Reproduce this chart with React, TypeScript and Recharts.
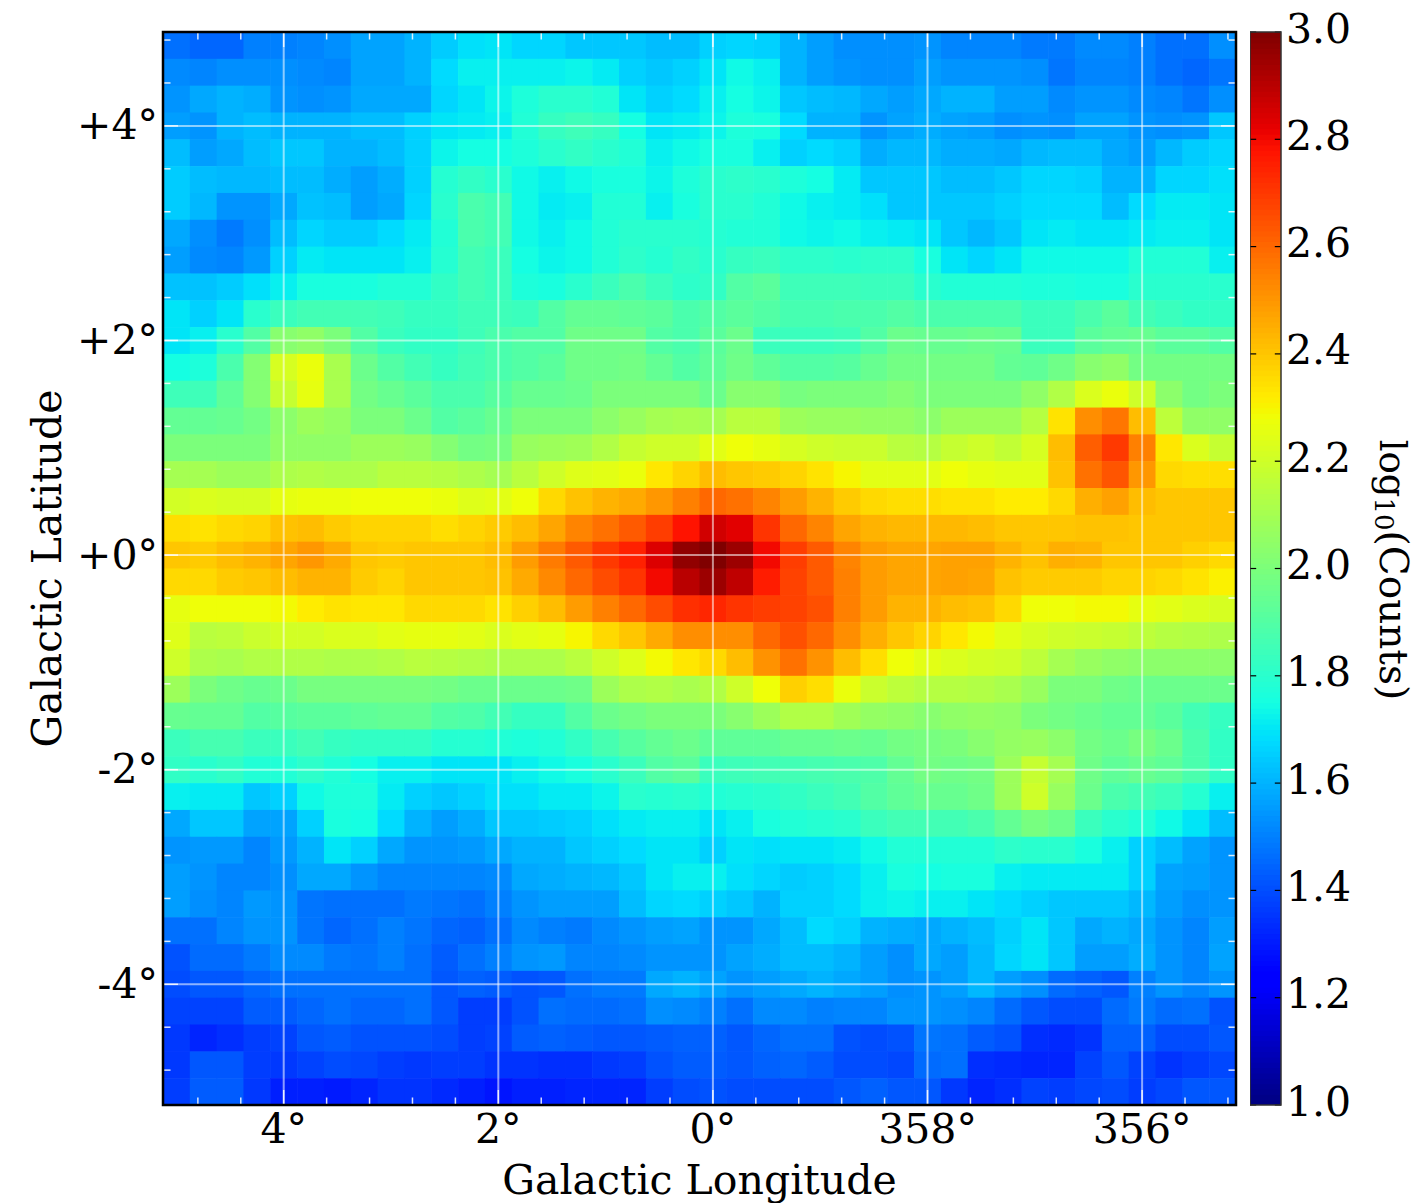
import React from 'react';
import { ScatterChart, Scatter, XAxis, YAxis, ReferenceLine, ReferenceArea, Label } from 'recharts';

// log10(counts) per pixel, top row first, left column (l = +5 deg) first
const row00 = [1.47,1.45,1.45,1.50,1.50,1.51,1.53,1.57,1.57,1.60,1.65,1.69,1.70,1.67,1.67,1.64,1.64,1.64,1.62,1.62,1.66,1.67,1.66,1.60,1.56,1.53,1.53,1.53,1.54,1.51,1.51,1.51,1.49,1.49,1.52,1.52,1.50,1.47,1.47,1.53];
const row01 = [1.52,1.51,1.53,1.53,1.53,1.52,1.51,1.57,1.57,1.60,1.68,1.72,1.72,1.72,1.72,1.73,1.71,1.66,1.64,1.66,1.70,1.74,1.72,1.60,1.56,1.54,1.53,1.53,1.56,1.54,1.54,1.54,1.53,1.48,1.51,1.51,1.50,1.47,1.45,1.48];
const row02 = [1.54,1.58,1.60,1.59,1.54,1.53,1.54,1.58,1.58,1.58,1.67,1.70,1.73,1.77,1.80,1.80,1.78,1.70,1.66,1.68,1.72,1.75,1.73,1.64,1.62,1.61,1.58,1.56,1.58,1.60,1.60,1.56,1.56,1.52,1.54,1.54,1.52,1.51,1.48,1.53];
const row03 = [1.56,1.54,1.60,1.62,1.60,1.60,1.60,1.62,1.62,1.66,1.70,1.71,1.72,1.78,1.83,1.85,1.83,1.75,1.70,1.71,1.73,1.77,1.76,1.68,1.60,1.60,1.54,1.57,1.59,1.57,1.56,1.53,1.54,1.53,1.57,1.57,1.54,1.53,1.54,1.64];
const row04 = [1.62,1.56,1.58,1.62,1.64,1.64,1.60,1.60,1.62,1.66,1.73,1.75,1.75,1.77,1.80,1.82,1.80,1.78,1.72,1.74,1.76,1.76,1.72,1.66,1.68,1.66,1.59,1.61,1.61,1.59,1.59,1.58,1.61,1.62,1.62,1.58,1.56,1.61,1.65,1.67];
const row05 = [1.65,1.62,1.61,1.61,1.62,1.62,1.59,1.56,1.59,1.66,1.79,1.82,1.80,1.74,1.72,1.74,1.76,1.76,1.73,1.77,1.80,1.81,1.80,1.77,1.75,1.71,1.64,1.64,1.64,1.62,1.62,1.64,1.67,1.67,1.66,1.60,1.60,1.67,1.67,1.69];
const row06 = [1.65,1.61,1.54,1.54,1.58,1.63,1.62,1.56,1.58,1.67,1.80,1.88,1.86,1.74,1.71,1.72,1.78,1.78,1.72,1.76,1.80,1.80,1.78,1.74,1.72,1.71,1.69,1.64,1.64,1.64,1.64,1.66,1.68,1.68,1.68,1.62,1.68,1.71,1.71,1.70];
const row07 = [1.58,1.53,1.49,1.53,1.62,1.67,1.65,1.65,1.68,1.71,1.78,1.88,1.86,1.74,1.72,1.74,1.78,1.80,1.80,1.80,1.79,1.78,1.78,1.74,1.73,1.74,1.72,1.71,1.70,1.64,1.61,1.64,1.70,1.71,1.70,1.70,1.71,1.72,1.72,1.70];
const row08 = [1.56,1.52,1.51,1.55,1.66,1.71,1.70,1.70,1.70,1.72,1.79,1.86,1.84,1.75,1.73,1.74,1.78,1.81,1.79,1.82,1.80,1.83,1.84,1.81,1.81,1.80,1.81,1.81,1.76,1.70,1.67,1.70,1.74,1.74,1.74,1.74,1.78,1.78,1.78,1.72];
const row09 = [1.63,1.63,1.65,1.69,1.72,1.76,1.76,1.76,1.78,1.78,1.82,1.86,1.84,1.77,1.76,1.80,1.84,1.88,1.84,1.81,1.82,1.90,1.92,1.85,1.85,1.85,1.84,1.84,1.80,1.78,1.78,1.78,1.77,1.77,1.76,1.76,1.80,1.80,1.80,1.80];
const row10 = [1.70,1.66,1.70,1.80,1.84,1.86,1.86,1.86,1.85,1.83,1.83,1.85,1.85,1.84,1.90,1.94,1.94,1.93,1.92,1.88,1.90,1.92,1.90,1.87,1.87,1.88,1.88,1.90,1.88,1.88,1.88,1.88,1.84,1.84,1.88,1.92,1.86,1.84,1.82,1.82];
const row11 = [1.70,1.72,1.80,1.90,2.03,2.05,2.00,1.90,1.84,1.82,1.82,1.85,1.88,1.90,1.90,1.97,1.97,1.97,1.90,1.88,1.92,1.96,1.84,1.84,1.84,1.85,1.90,1.96,1.95,1.95,1.96,1.95,1.84,1.84,1.92,1.94,1.95,1.92,1.92,1.90];
const row12 = [1.75,1.77,1.88,2.02,2.22,2.27,2.11,1.96,1.90,1.86,1.83,1.86,1.88,1.90,1.92,1.97,1.97,1.98,1.94,1.90,1.93,1.97,1.93,1.90,1.90,1.91,1.95,1.98,1.98,1.98,1.98,1.94,1.93,1.97,2.03,2.05,1.98,1.98,1.98,1.98];
const row13 = [1.85,1.85,1.93,2.02,2.18,2.26,2.11,1.98,1.95,1.92,1.88,1.88,1.91,1.95,1.95,1.96,2.00,2.00,2.00,2.00,1.96,2.03,2.03,1.99,2.00,2.00,2.00,2.02,2.00,2.00,2.00,2.00,2.05,2.13,2.23,2.27,2.20,2.04,1.98,2.00];
const row14 = [1.94,1.94,1.95,1.98,2.04,2.08,2.06,2.00,2.00,1.96,1.90,1.92,1.95,2.00,2.00,2.00,2.04,2.07,2.10,2.11,2.10,2.15,2.15,2.08,2.07,2.07,2.06,2.06,2.04,2.08,2.08,2.08,2.14,2.34,2.52,2.57,2.42,2.16,2.05,2.05];
const row15 = [2.00,2.00,2.00,2.00,2.05,2.05,2.05,2.08,2.08,2.07,2.02,1.98,1.99,2.07,2.08,2.09,2.13,2.18,2.20,2.20,2.25,2.28,2.26,2.22,2.20,2.19,2.19,2.15,2.14,2.18,2.20,2.17,2.22,2.42,2.62,2.70,2.55,2.33,2.23,2.18];
const row16 = [2.10,2.10,2.08,2.08,2.12,2.13,2.12,2.12,2.15,2.15,2.14,2.12,2.10,2.15,2.20,2.24,2.25,2.27,2.33,2.37,2.42,2.40,2.39,2.37,2.34,2.30,2.25,2.25,2.25,2.28,2.26,2.25,2.25,2.41,2.58,2.64,2.50,2.36,2.35,2.35];
const row17 = [2.21,2.23,2.22,2.22,2.26,2.27,2.27,2.28,2.28,2.28,2.27,2.24,2.25,2.28,2.36,2.41,2.44,2.46,2.50,2.55,2.60,2.58,2.54,2.49,2.44,2.39,2.36,2.35,2.35,2.34,2.34,2.32,2.32,2.36,2.45,2.48,2.42,2.40,2.40,2.40];
const row18 = [2.35,2.34,2.36,2.37,2.41,2.42,2.39,2.37,2.37,2.37,2.35,2.37,2.39,2.42,2.47,2.54,2.58,2.63,2.69,2.78,2.86,2.83,2.71,2.60,2.54,2.47,2.44,2.43,2.43,2.43,2.42,2.40,2.40,2.40,2.41,2.41,2.40,2.40,2.40,2.40];
const row19 = [2.40,2.39,2.42,2.44,2.47,2.50,2.46,2.40,2.39,2.40,2.40,2.40,2.42,2.49,2.56,2.63,2.70,2.75,2.84,2.97,3.00,2.95,2.80,2.69,2.63,2.54,2.49,2.47,2.47,2.48,2.48,2.44,2.41,2.45,2.44,2.40,2.40,2.40,2.38,2.36];
const row20 = [2.36,2.36,2.39,2.40,2.42,2.44,2.44,2.39,2.37,2.40,2.40,2.40,2.41,2.46,2.53,2.60,2.66,2.71,2.80,2.90,2.95,2.89,2.76,2.68,2.63,2.55,2.49,2.47,2.47,2.48,2.47,2.41,2.39,2.39,2.39,2.37,2.37,2.36,2.34,2.31];
const row21 = [2.26,2.28,2.28,2.28,2.29,2.32,2.34,2.33,2.33,2.36,2.36,2.36,2.34,2.38,2.42,2.49,2.55,2.60,2.66,2.72,2.74,2.71,2.69,2.68,2.65,2.55,2.49,2.44,2.44,2.42,2.41,2.36,2.28,2.28,2.29,2.29,2.26,2.25,2.23,2.22];
const row22 = [2.24,2.15,2.16,2.19,2.21,2.21,2.23,2.23,2.25,2.26,2.26,2.25,2.23,2.25,2.26,2.30,2.36,2.40,2.46,2.52,2.52,2.52,2.60,2.65,2.60,2.52,2.45,2.40,2.37,2.33,2.29,2.25,2.22,2.20,2.19,2.18,2.16,2.14,2.13,2.12];
const row23 = [2.20,2.12,2.11,2.13,2.13,2.13,2.12,2.12,2.13,2.15,2.14,2.13,2.12,2.12,2.12,2.15,2.20,2.24,2.29,2.33,2.36,2.42,2.51,2.58,2.51,2.42,2.35,2.28,2.25,2.23,2.21,2.20,2.16,2.10,2.07,2.05,2.04,2.04,2.04,2.04];
const row24 = [2.08,2.00,1.97,1.95,1.96,1.99,1.99,1.99,1.99,1.99,1.98,1.96,1.96,1.96,1.96,1.97,2.08,2.12,2.13,2.11,2.13,2.20,2.28,2.38,2.35,2.27,2.19,2.16,2.14,2.14,2.13,2.11,2.07,2.00,2.00,1.97,1.96,1.96,1.96,1.96];
const row25 = [1.95,1.94,1.94,1.90,1.91,1.92,1.92,1.93,1.94,1.94,1.90,1.89,1.86,1.83,1.83,1.90,1.96,1.98,2.00,2.00,2.00,2.03,2.08,2.13,2.13,2.09,2.06,2.05,2.03,2.05,2.06,2.05,2.00,1.98,1.96,1.94,1.94,1.92,1.86,1.83];
const row26 = [1.84,1.87,1.87,1.84,1.84,1.86,1.83,1.82,1.82,1.82,1.79,1.79,1.78,1.77,1.78,1.82,1.87,1.91,1.94,1.96,1.93,1.93,1.93,1.95,1.95,1.96,1.95,1.98,1.99,2.00,2.03,2.06,2.07,2.04,1.98,1.96,1.99,1.96,1.88,1.82];
const row27 = [1.82,1.80,1.82,1.78,1.78,1.81,1.78,1.75,1.72,1.72,1.70,1.70,1.70,1.72,1.74,1.76,1.80,1.84,1.90,1.92,1.84,1.85,1.86,1.86,1.87,1.88,1.89,1.94,1.98,1.97,1.98,2.08,2.18,2.10,1.97,1.93,1.95,1.93,1.88,1.82];
const row28 = [1.72,1.71,1.71,1.64,1.66,1.74,1.77,1.77,1.71,1.66,1.64,1.66,1.69,1.69,1.71,1.71,1.73,1.80,1.79,1.80,1.78,1.79,1.80,1.82,1.84,1.86,1.90,1.93,1.95,1.95,1.97,2.08,2.20,2.07,1.96,1.88,1.86,1.84,1.79,1.72];
const row29 = [1.58,1.64,1.64,1.57,1.57,1.66,1.76,1.75,1.68,1.60,1.56,1.59,1.64,1.64,1.65,1.66,1.69,1.71,1.72,1.72,1.70,1.72,1.76,1.78,1.79,1.80,1.84,1.86,1.86,1.86,1.88,1.94,1.99,1.96,1.84,1.80,1.78,1.74,1.70,1.62];
const row30 = [1.54,1.55,1.55,1.51,1.55,1.60,1.70,1.66,1.58,1.54,1.54,1.55,1.58,1.60,1.60,1.64,1.66,1.68,1.70,1.70,1.66,1.70,1.69,1.70,1.70,1.71,1.74,1.78,1.78,1.78,1.78,1.81,1.80,1.80,1.76,1.72,1.66,1.62,1.57,1.54];
const row31 = [1.56,1.54,1.51,1.51,1.53,1.58,1.58,1.54,1.51,1.51,1.51,1.51,1.52,1.58,1.59,1.60,1.61,1.64,1.70,1.72,1.72,1.69,1.67,1.65,1.66,1.68,1.72,1.76,1.75,1.76,1.76,1.72,1.71,1.71,1.71,1.71,1.66,1.57,1.56,1.54];
const row32 = [1.56,1.53,1.51,1.55,1.54,1.48,1.47,1.47,1.47,1.49,1.48,1.47,1.50,1.54,1.56,1.56,1.56,1.62,1.67,1.68,1.66,1.64,1.60,1.66,1.66,1.68,1.72,1.73,1.72,1.72,1.70,1.68,1.66,1.64,1.64,1.64,1.61,1.56,1.53,1.54];
const row33 = [1.47,1.47,1.51,1.54,1.54,1.48,1.45,1.47,1.50,1.48,1.45,1.44,1.47,1.52,1.50,1.49,1.52,1.54,1.56,1.57,1.54,1.54,1.58,1.62,1.68,1.66,1.60,1.59,1.58,1.60,1.62,1.66,1.70,1.64,1.58,1.60,1.58,1.54,1.51,1.56];
const row34 = [1.41,1.46,1.46,1.49,1.52,1.52,1.49,1.48,1.50,1.47,1.43,1.47,1.50,1.54,1.55,1.51,1.51,1.52,1.54,1.54,1.54,1.57,1.59,1.62,1.62,1.60,1.56,1.53,1.58,1.56,1.61,1.67,1.70,1.64,1.56,1.56,1.59,1.54,1.51,1.57];
const row35 = [1.40,1.42,1.42,1.45,1.47,1.47,1.47,1.47,1.47,1.47,1.42,1.44,1.43,1.41,1.42,1.47,1.49,1.49,1.58,1.60,1.57,1.54,1.56,1.58,1.60,1.58,1.56,1.53,1.54,1.56,1.61,1.56,1.53,1.46,1.44,1.42,1.50,1.54,1.51,1.54];
const row36 = [1.38,1.38,1.38,1.43,1.43,1.45,1.47,1.45,1.45,1.47,1.42,1.37,1.37,1.41,1.47,1.46,1.46,1.47,1.53,1.52,1.50,1.47,1.52,1.52,1.50,1.51,1.51,1.54,1.54,1.53,1.51,1.46,1.42,1.40,1.40,1.46,1.49,1.46,1.47,1.41];
const row37 = [1.36,1.32,1.34,1.37,1.38,1.42,1.43,1.41,1.41,1.41,1.40,1.37,1.38,1.43,1.44,1.43,1.42,1.42,1.43,1.44,1.44,1.42,1.45,1.47,1.47,1.41,1.40,1.41,1.48,1.47,1.43,1.41,1.34,1.33,1.35,1.44,1.44,1.40,1.40,1.42];
const row38 = [1.36,1.42,1.42,1.37,1.36,1.38,1.40,1.39,1.37,1.36,1.37,1.37,1.35,1.35,1.34,1.34,1.36,1.37,1.41,1.43,1.43,1.42,1.44,1.45,1.43,1.40,1.40,1.39,1.46,1.47,1.34,1.33,1.32,1.32,1.38,1.42,1.38,1.35,1.37,1.39];
const row39 = [1.37,1.43,1.43,1.36,1.31,1.31,1.30,1.32,1.35,1.35,1.33,1.31,1.29,1.31,1.31,1.32,1.32,1.32,1.37,1.40,1.41,1.40,1.40,1.40,1.40,1.42,1.44,1.42,1.42,1.36,1.32,1.34,1.38,1.37,1.39,1.40,1.37,1.39,1.42,1.42];

const rows = [row00,row01,row02,row03,row04,row05,row06,row07,row08,row09,row10,row11,row12,row13,row14,row15,row16,row17,row18,row19,row20,row21,row22,row23,row24,row25,row26,row27,row28,row29,row30,row31,row32,row33,row34,row35,row36,row37,row38,row39];

const lonTicks = [4, 2, 0, -2, -4];
const latTicks = [4, 2, 0, -2, -4];
const minorTicks = [-4.8,-4.4,-3.6,-3.2,-2.8,-2.4,-1.6,-1.2,-0.8,-0.4,0.4,0.8,1.2,1.6,2.4,2.8,3.2,3.6,4.4,4.8];
const barTicks = [1.0,1.2,1.4,1.6,1.8,2.0,2.2,2.4,2.6,2.8,3.0];

const LON_RANGE: [number, number] = [-4.875, 5.125];
const LAT_RANGE: [number, number] = [-5.125, 4.875];
const STEP = 0.25; // degrees per pixel of the map
const CELL = 1073 / 40;
const FONT = '"DejaVu Serif", serif';
const FONT_SIZE = 41;
const MAJOR = 0.14;
const MINOR = 0.07;
const TOP = 1000; // z-index above the scatter layer

// matplotlib jet
function jet(value: number) {
  const t = Math.min(1, Math.max(0, (value - 1) / 2));
  const ramp = (pts: number[][]) => {
    for (let i = 1; i < pts.length; i++) {
      if (t <= pts[i][0]) {
        const [x0, y0] = pts[i - 1];
        const [x1, y1] = pts[i];
        return y0 + ((t - x0) / (x1 - x0)) * (y1 - y0);
      }
    }
    return pts[pts.length - 1][1];
  };
  const r = ramp([[0, 0], [0.35, 0], [0.66, 1], [0.89, 1], [1, 0.5]]);
  const g = ramp([[0, 0], [0.125, 0], [0.375, 1], [0.64, 1], [0.91, 0], [1, 0]]);
  const b = ramp([[0, 0.5], [0.11, 1], [0.34, 1], [0.65, 0], [1, 0]]);
  return `rgb(${Math.round(r * 255)},${Math.round(g * 255)},${Math.round(b * 255)})`;
}

const mapPoints = rows.flatMap((row, r) =>
  row.map((v, c) => ({ l: (20 - c) * STEP, b: (19 - r) * STEP, v }))
);

const barLevels = Array.from({ length: 200 }, (_, i) => ({ x: 0.5, v: 1.005 + i * 0.01 }));

const Pixel = (props: any) => (
  <rect x={props.cx - CELL / 2} y={props.cy - CELL / 2} width={CELL + 0.6} height={CELL + 0.6} fill={jet(props.payload.v)} />
);

const BarStep = (props: any) => (
  <rect x={props.cx - 15.5} y={props.cy - 3} width={31} height={6.4} fill={jet(props.payload.v)} />
);

const whiteSeg = (key: string, a: any, b: any, width = 1.5) => (
  <ReferenceLine key={key} segment={[a, b]} stroke="#fff" strokeWidth={width} strokeOpacity={0.85} zIndex={TOP} />
);

function GalacticMap() {
  const [lonMin, lonMax] = LON_RANGE;
  const [latMin, latMax] = LAT_RANGE;
  return (
    <ScatterChart width={1245} height={1203} margin={{ top: 32, right: 9, bottom: 0, left: 0 }}>
      <XAxis
        type="number" dataKey="l" domain={LON_RANGE} reversed allowDataOverflow ticks={lonTicks}
        tickFormatter={(l: number) => `${(l + 360) % 360}°`}
        tickLine={false} axisLine={false} height={98} interval={0} tickSize={0} tickMargin={9}
        tick={{ fontFamily: FONT, fontSize: FONT_SIZE, fill: '#000' }}
      >
        <Label value="Galactic Longitude" position="insideBottom" offset={9} style={{ fontFamily: FONT, fontSize: FONT_SIZE, fill: '#000' }} />
      </XAxis>
      <YAxis
        type="number" dataKey="b" domain={LAT_RANGE} allowDataOverflow ticks={latTicks}
        tickFormatter={(b: number) => `${b < 0 ? '-' : '+'}${Math.abs(b)}°`}
        tickLine={false} axisLine={false} width={163} interval={0} tickSize={0} tickMargin={5}
        tick={{ fontFamily: FONT, fontSize: FONT_SIZE, fill: '#000', dy: -1 }}
      >
        <Label value="Galactic Latitude" angle={-90} position="insideLeft" offset={46} style={{ fontFamily: FONT, fontSize: FONT_SIZE, fill: '#000', textAnchor: 'middle' }} />
      </YAxis>
      <Scatter data={mapPoints} shape={Pixel} isAnimationActive={false} zIndex={10} />
      {lonTicks.map(l => <ReferenceLine key={`gx${l}`} x={l} stroke="#fff" strokeWidth={2} strokeOpacity={0.55} zIndex={TOP} />)}
      {latTicks.map(b => <ReferenceLine key={`gy${b}`} y={b} stroke="#fff" strokeWidth={2} strokeOpacity={0.55} zIndex={TOP} />)}
      {lonTicks.flatMap(l => [
        whiteSeg(`tb${l}`, { x: l, y: latMin }, { x: l, y: latMin + MAJOR }),
        whiteSeg(`tt${l}`, { x: l, y: latMax }, { x: l, y: latMax - MAJOR }),
      ])}
      {latTicks.flatMap(b => [
        whiteSeg(`tl${b}`, { x: lonMax, y: b }, { x: lonMax - MAJOR, y: b }),
        whiteSeg(`tr${b}`, { x: lonMin, y: b }, { x: lonMin + MAJOR, y: b }),
      ])}
      {minorTicks.flatMap(m => [
        whiteSeg(`mb${m}`, { x: m, y: latMin }, { x: m, y: latMin + MINOR }),
        whiteSeg(`mt${m}`, { x: m, y: latMax }, { x: m, y: latMax - MINOR }),
        whiteSeg(`ml${m}`, { x: lonMax, y: m }, { x: lonMax - MINOR, y: m }),
        whiteSeg(`mr${m}`, { x: lonMin, y: m }, { x: lonMin + MINOR, y: m }),
      ])}
      <ReferenceArea x1={lonMin} x2={lonMax} y1={latMin} y2={latMax} fill="none" stroke="#000" strokeWidth={2.5} fillOpacity={0} zIndex={TOP + 1} />
    </ScatterChart>
  );
}

function ColorBar() {
  const logLabel = () => {
    const x = 1390 - 1250;
    const y = 570;
    return (
      <text x={x} y={y} transform={`rotate(90 ${x} ${y})`} textAnchor="middle" dominantBaseline="middle" fontFamily={FONT} fontSize={39} fill="#000">
        <tspan fontSize={37}>log</tspan>
        <tspan fontSize={26} dy={8}>10</tspan>
        <tspan dy={-8}>(Counts)</tspan>
      </text>
    );
  };
  return (
    <ScatterChart width={161} height={1203} margin={{ top: 32, right: 0, bottom: 98, left: 0 }}>
      <XAxis type="number" dataKey="x" domain={[0, 1]} hide />
      <YAxis
        type="number" dataKey="v" domain={[1, 3]} allowDataOverflow orientation="right" ticks={barTicks} interval={0}
        width={130} tickLine={false} axisLine={false} tickSize={0} tickMargin={5}
        tickFormatter={(v: number) => v.toFixed(1)}
        tick={{ fontFamily: FONT, fontSize: FONT_SIZE, fill: '#000', dy: -4 }}
      >
        <Label content={logLabel} />
      </YAxis>
      <Scatter data={barLevels} shape={BarStep} isAnimationActive={false} zIndex={10} />
      {barTicks.flatMap(v => [
        <ReferenceLine key={`bl${v}`} segment={[{ x: 0, y: v }, { x: 0.2, y: v }]} stroke="#000" strokeWidth={1.2} zIndex={TOP} />,
        <ReferenceLine key={`br${v}`} segment={[{ x: 0.8, y: v }, { x: 1, y: v }]} stroke="#000" strokeWidth={1.2} zIndex={TOP} />,
      ])}
      <ReferenceArea x1={0} x2={1} y1={1} y2={3} fill="none" fillOpacity={0} stroke="#333" strokeWidth={1.5} zIndex={TOP + 1} />
    </ScatterChart>
  );
}

export default function App() {
  return (
    <div style={{ position: 'absolute', left: 0, top: 0, width: 1411, height: 1203, background: '#fff' }}>
      <div style={{ position: 'absolute', left: 0, top: 0 }}><GalacticMap /></div>
      <div style={{ position: 'absolute', left: 1250, top: 0 }}><ColorBar /></div>
    </div>
  );
}
